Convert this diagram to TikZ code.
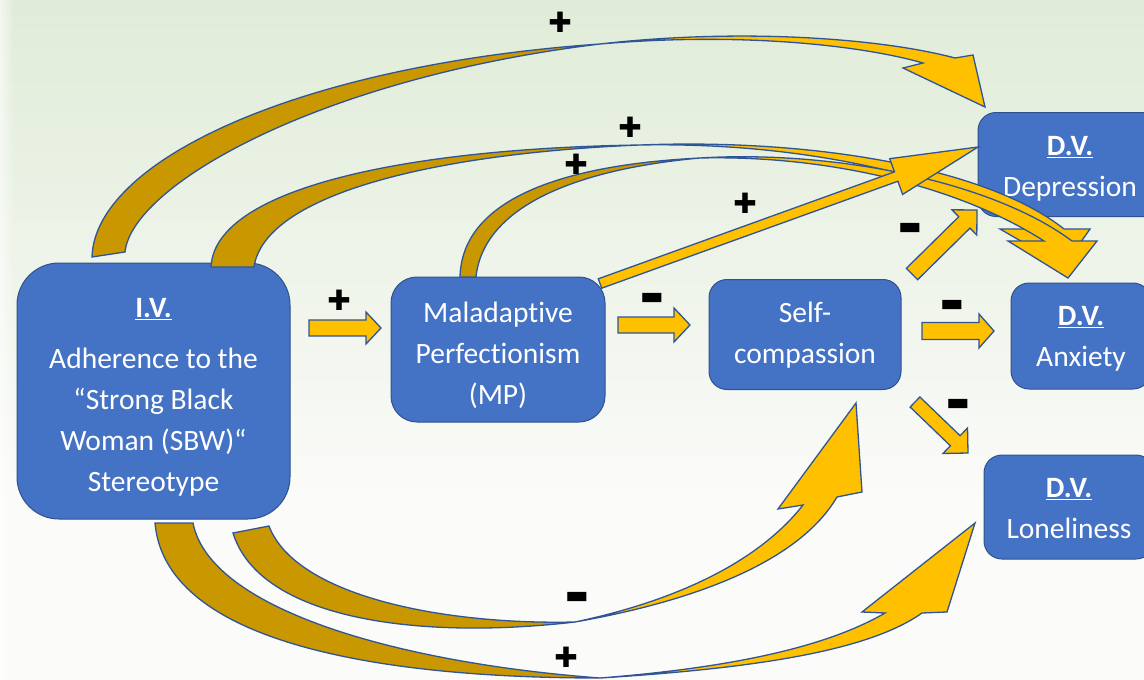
\documentclass[tikz,border=0pt]{standalone}
\usepackage{fontspec}
\setmainfont{Carlito}[Ligatures=NoCommon]
\newfontfamily\signfont{DejaVu Sans}
\usepackage{tikz}
\usetikzlibrary{calc,fadings}
\definecolor{boxblue}{HTML}{4472C4}
\definecolor{boxline}{HTML}{2F528F}
\definecolor{arrowgold}{HTML}{FFC000}
\definecolor{arrowdark}{HTML}{C99700}
\definecolor{arrowline}{HTML}{2F5597}
\definecolor{bgtop}{HTML}{E0ECD8}
\definecolor{bgbottom}{HTML}{FBFBF9}
% straight block arrow: from, to, half shaft, half head, head length
\newcommand{\blockarr}[5]{%
  \path ($(#2)!#5!(#1)$) coordinate (bh);
  \filldraw[blockarrow] ($(#1)!#3!90:(#2)$) -- ($(bh)!#3!-90:(#1)$) -- ($(bh)!#4!-90:(#1)$) -- (#2)
    -- ($(bh)!#4!90:(#1)$) -- ($(bh)!#3!90:(#1)$) -- ($(#1)!#3!-90:(#2)$) -- cycle;
}

\begin{document}
\begin{tikzpicture}[x=1pt, y=-1pt,
  box/.style={rectangle, draw=boxline, line width=1pt, fill=boxblue, inner sep=0pt},
  boxtext/.style={text=white, align=center, inner sep=0pt, font=\fontsize{29.5}{41}\selectfont},
  blockarrow/.style={fill=arrowgold, draw=arrowline, line width=1.3pt},
  darkband/.style={fill=arrowdark, draw=arrowline, line width=1.3pt},
  brightband/.style={fill=arrowgold, draw=arrowline, line width=1.3pt},
  plus/.style={font=\signfont\fontsize{28}{28}\selectfont, inner sep=0pt, text=black},
  minus/.style={font=\signfont\fontsize{25}{25}\selectfont, inner sep=0pt, text=black}
]
\useasboundingbox (0,0) rectangle (1144,680);
\clip (0,0) rectangle (1144,680);
\fill[top color=bgtop, bottom color=bgbottom] (0,0) rectangle (1144,500);
\fill[bgbottom] (0,500) rectangle (1144,680);
\fill[white, opacity=.6, path fading=east] (0,0) rectangle (14,680);

\node[box, minimum width=273pt, minimum height=256pt, rounded corners=42pt] (iv) at (153.5,391) {};
\node[box, minimum width=214pt, minimum height=145pt, rounded corners=26pt] (mp) at (498,349.5) {};
\node[box, minimum width=192pt, minimum height=110pt, rounded corners=18pt] (sc) at (805,334.5) {};
\node[box, minimum width=184pt, minimum height=104pt, rounded corners=18pt] (dep) at (1070,164.5) {};
\node[box, minimum width=140pt, minimum height=106pt, rounded corners=18pt] (anx) at (1081,336) {};
\node[box, minimum width=170pt, minimum height=104pt, rounded corners=18pt] (lon) at (1069,507) {};
\node[boxtext] (iv-t) at ([yshift=-6pt]iv.center)
  {\underline{\textbf{I.V.}}\\[10pt] Adherence to the\\“Strong Black\\Woman (SBW)“\\Stereotype};
\node[boxtext] (mp-t) at ([yshift=-6pt]mp.center) {Maladaptive\\Perfectionism\\(MP)};
\node[boxtext] (sc-t) at ([yshift=-1pt]sc.center) {Self-\\compassion};
\node[boxtext] (dep-t) at ([yshift=-4pt]dep.center) {\underline{\textbf{D.V.}}\\Depression};
\node[boxtext] (anx-t) at ([yshift=-3pt]anx.center) {\underline{\textbf{D.V.}}\\Anxiety};
\node[boxtext] (lon-t) at ([yshift=-2pt]lon.center) {\underline{\textbf{D.V.}}\\Loneliness};

\filldraw[darkband] (211,267) .. controls (215,185) and (420,148) .. (640,145)
  .. controls (440,153) and (265,193) .. (254,267) -- cycle;
\filldraw[brightband] (640,145) .. controls (820,138) and (990,170) .. (1064,229) -- (1090,229) -- (1064,266)
  -- (1000,229) -- (1036,229) .. controls (950,175) and (800,142) .. (640,145) -- cycle;
\filldraw[darkband] (460,277) .. controls (462,200) and (560,165) .. (700,158)
  .. controls (568,170) and (483,210) .. (476,277) -- cycle;
\filldraw[brightband] (700,158) .. controls (830,150) and (990,180) .. (1072,241) -- (1097,241) -- (1068,278)
  -- (1008,241) -- (1044,241) .. controls (960,187) and (830,155) .. (700,158) -- cycle;

\filldraw[darkband] (92,257) .. controls (95,160) and (300,65) .. (600,44)
  .. controls (320,78) and (132,185) .. (125,252) -- cycle;
\filldraw[brightband] (600,44) .. controls (740,28) and (880,38) .. (955,58) -- (973,55) -- (985,107)
  -- (903,68) -- (923,63) .. controls (860,45) and (740,32) .. (600,44) -- cycle;

\filldraw[darkband] (233,533) .. controls (260,620) and (420,640) .. (575,622)
  .. controls (440,625) and (295,595) .. (269,526) -- cycle;
\filldraw[brightband] (575,622) .. controls (700,600) and (800,560) .. (837,497) -- (862,492) -- (856,403)
  -- (778,509) -- (803,505) .. controls (760,560) and (680,600) .. (575,622) -- cycle;
\filldraw[darkband] (155,523) .. controls (165,640) and (370,678) .. (600,678)
  .. controls (400,663) and (210,610) .. (193,523) -- cycle;
\filldraw[brightband] (600,678) .. controls (760,668) and (870,650) .. (922,613) -- (947,612) -- (975,523)
  -- (862,612) -- (885,613) .. controls (830,645) and (740,667) .. (600,678) -- cycle;

\coordinate (mpdep-a) at (600,283.5);
\coordinate (mpdep-b) at (978,147);
\coordinate (ivmp-a) at (309,328);
\coordinate (ivmp-b) at (381,328);
\coordinate (mpsc-a) at (618,325);
\coordinate (mpsc-b) at (690,325);
\coordinate (scanx-a) at (922,331);
\coordinate (scanx-b) at (994,331);
\coordinate (scdep-a) at (912,274);
\coordinate (scdep-b) at (977,210);
\coordinate (sclon-a) at (915,402);
\coordinate (sclon-b) at (968,453);
\blockarr{mpdep-a}{mpdep-b}{5pt}{19pt}{87pt}
\blockarr{ivmp-a}{ivmp-b}{8pt}{16pt}{15pt}
\blockarr{mpsc-a}{mpsc-b}{8pt}{17pt}{16pt}
\blockarr{scanx-a}{scanx-b}{8.5pt}{17pt}{15pt}
\blockarr{scdep-a}{scdep-b}{8pt}{17.7pt}{17.7pt}
\blockarr{sclon-a}{sclon-b}{7pt}{17.7pt}{17.7pt}

\node[plus] (p1) at (560,22) {✚};
\node[plus] (p2) at (630,127) {✚};
\node[plus] (p3) at (576,164) {✚};
\node[plus] (p4) at (745,203) {✚};
\node[plus] (p5) at (339,300) {✚};
\node[plus] (p6) at (566,657) {✚};
\node[minus] (m1) at (652,299) {▬};
\node[minus] (m2) at (952,306) {▬};
\node[minus] (m3) at (910,229) {▬};
\node[minus] (m4) at (958,405) {▬};
\node[minus] (m5) at (577,598) {▬};
\end{tikzpicture}
\end{document}
